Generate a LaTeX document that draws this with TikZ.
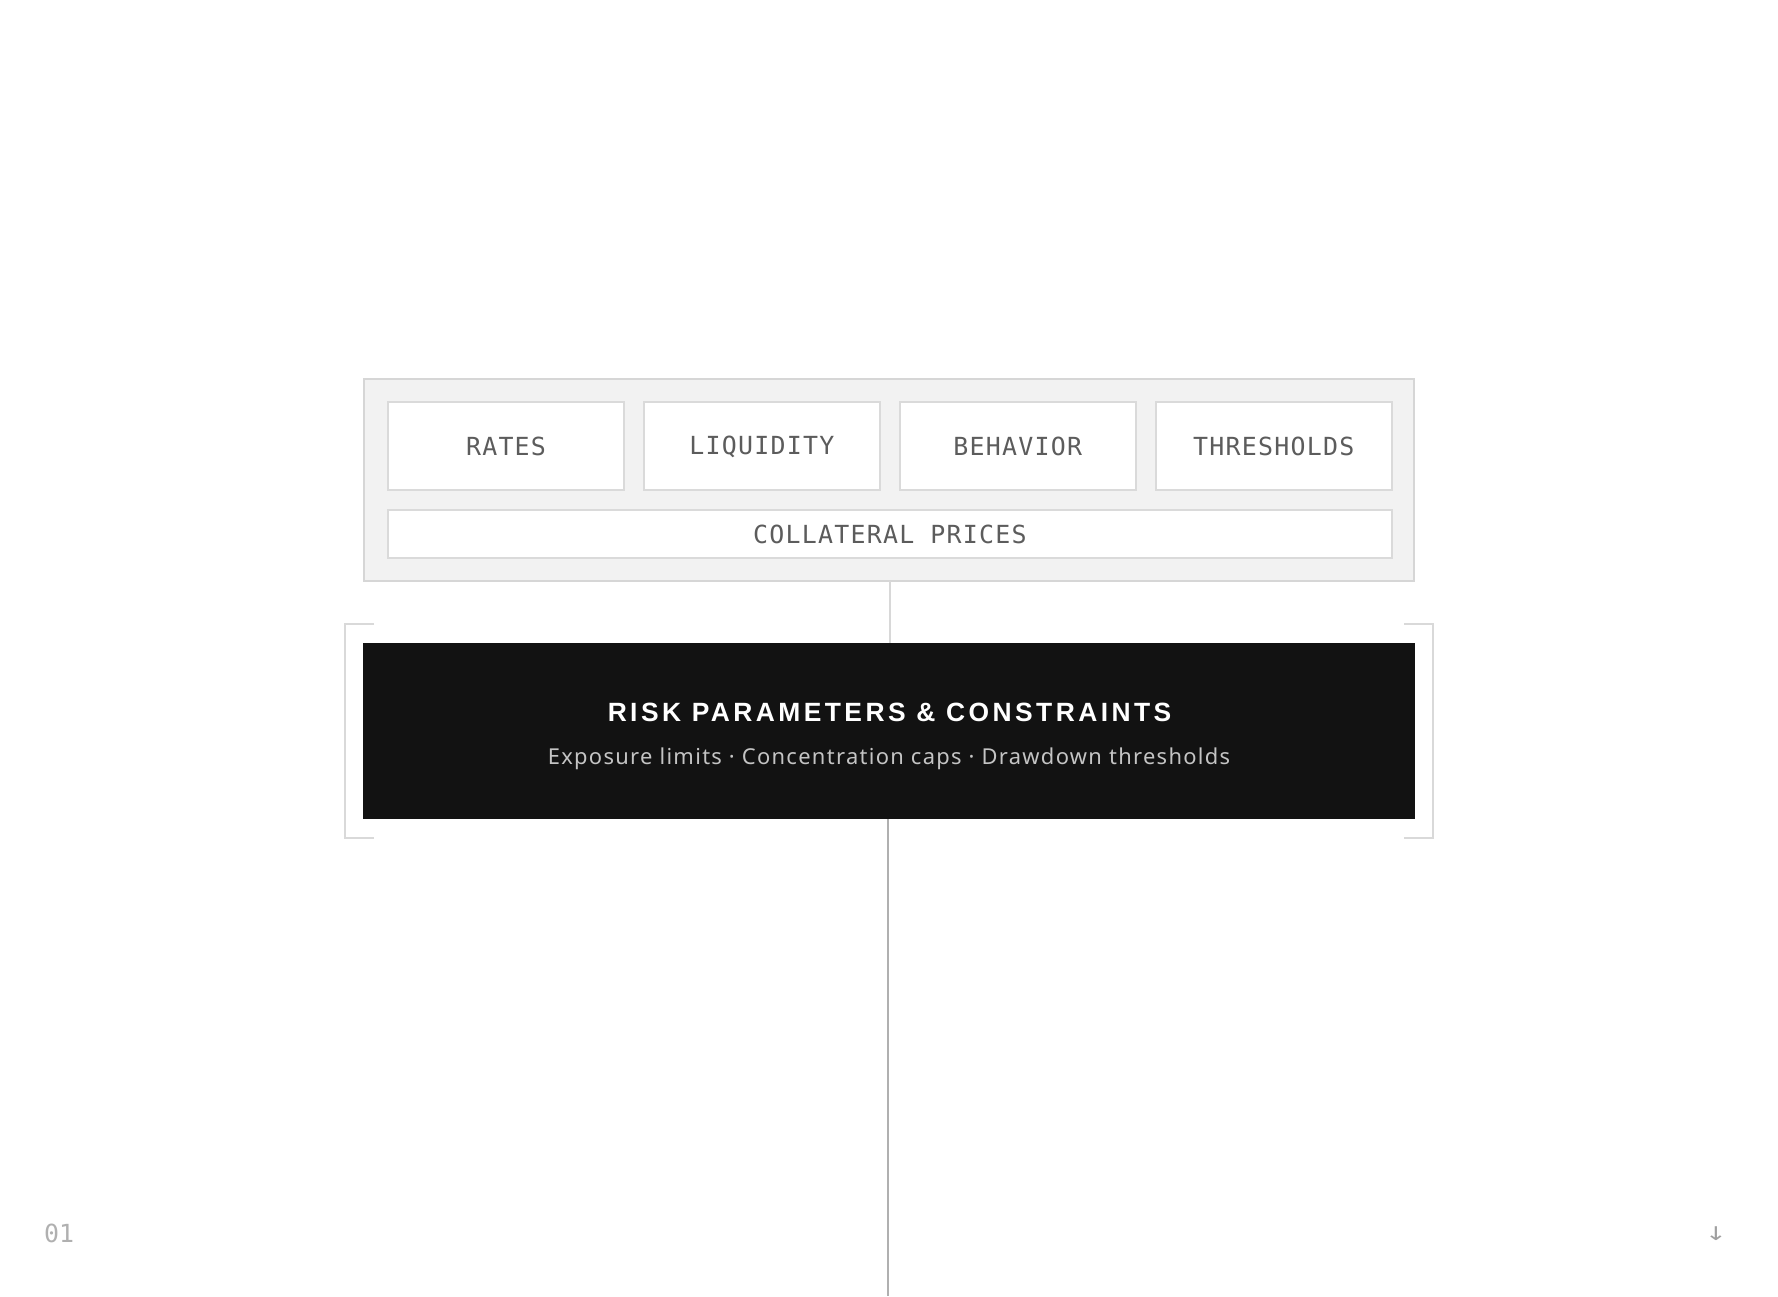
\documentclass[tikz,border=0pt]{standalone}
\usepackage{fontspec}
\setmainfont{Noto Sans}
\newfontfamily\labelmono[LetterSpace=5]{DejaVu Sans Mono}
\newfontfamily\plainmono{DejaVu Sans Mono}
\newfontfamily\symfont{DejaVu Sans}
\newfontfamily\titlefont[LetterSpace=13]{Liberation Sans}
\newfontfamily\subfont[LetterSpace=6]{Noto Sans}
\definecolor{panelfill}{HTML}{F2F2F2}
\definecolor{panelline}{HTML}{D6D6D6}
\definecolor{boxline}{HTML}{DADADA}
\definecolor{labeltext}{HTML}{5C5C5C}
\definecolor{darkbox}{HTML}{121212}
\definecolor{subtext}{HTML}{C4C4C4}
\definecolor{bracketc}{HTML}{D9D9D9}
\definecolor{upline}{HTML}{D8D8D8}
\definecolor{lowline}{HTML}{B0B0B0}
\definecolor{pagenum}{HTML}{B0B0B0}
\definecolor{arrowc}{HTML}{A0A0A0}
\tikzset{
  panelbox/.style={draw=panelline, fill=panelfill, line width=2bp},
  factorbox/.style={draw=boxline, fill=white, line width=2bp},
  monolabel/.style={text=labeltext, font=\labelmono\fontsize{25}{30}\selectfont},
  bracketline/.style={draw=bracketc, line width=2bp},
}
\begin{document}
\begin{tikzpicture}[x=1bp,y=-1bp]
\useasboundingbox (0,0) rectangle (1778,1296);
\fill[white] (0,0) rectangle (1778,1296);
% outer panel
\draw[panelbox] (364.3,379) rectangle (1414.3,581);
\coordinate (panelS) at (890,581);
% factor boxes
\draw[factorbox] (388,402) rectangle (624,490);
\draw[factorbox] (643.9,402) rectangle (879.9,490);
\draw[factorbox] (899.8,402) rectangle (1135.8,490);
\draw[factorbox] (1155.7,402) rectangle (1391.7,490);
\draw[factorbox] (388,510) rectangle (1391.7,558);
\node[monolabel] (rates) at (506,446.5) {RATES};
\node[monolabel] (liq) at (761.9,446.5) {LIQUIDITY};
\node[monolabel] (beh) at (1017.8,446.5) {BEHAVIOR};
\node[monolabel] (thr) at (1273.7,446.5) {THRESHOLDS};
\node[monolabel] (coll) at (889.9,534) {COLLATERAL PRICES};
% dark box
\node[fill=darkbox, minimum width=1052bp, minimum height=176bp, inner sep=0pt] (risk) at (889,731) {};
\node[text=white, font=\titlefont\fontsize{26.5}{30}\selectfont\bfseries] (title) at (889.5,712.5) {RISK PARAMETERS \& CONSTRAINTS};
\node[text=subtext, font=\subfont\fontsize{22}{26}\selectfont] (sub) at (889,759) {Exposure limits · Concentration caps · Drawdown thresholds};
% brackets
\draw[bracketline] (374,623.7) -- (345,623.7) -- (345,837.7) -- (374,837.7);
\draw[bracketline] (1404,623.7) -- (1433,623.7) -- (1433,837.7) -- (1404,837.7);
% connectors
\draw[upline, line width=2bp] (panelS) -- (risk.north -| panelS);
\coordinate (bottomend) at (888,1296);
\draw[lowline, line width=2bp] (risk.south -| bottomend) -- (bottomend);
% footer
\node[anchor=base west, inner sep=0pt, text=pagenum, font=\plainmono\fontsize{25}{28}\selectfont] (pnum) at (44,1242) {01};
\node[inner sep=0pt, text=arrowc, xscale=1.4, transform shape, font=\symfont\fontsize{19}{21}\selectfont] (arrow) at (1716,1234) {↓};
\end{tikzpicture}
\end{document}
